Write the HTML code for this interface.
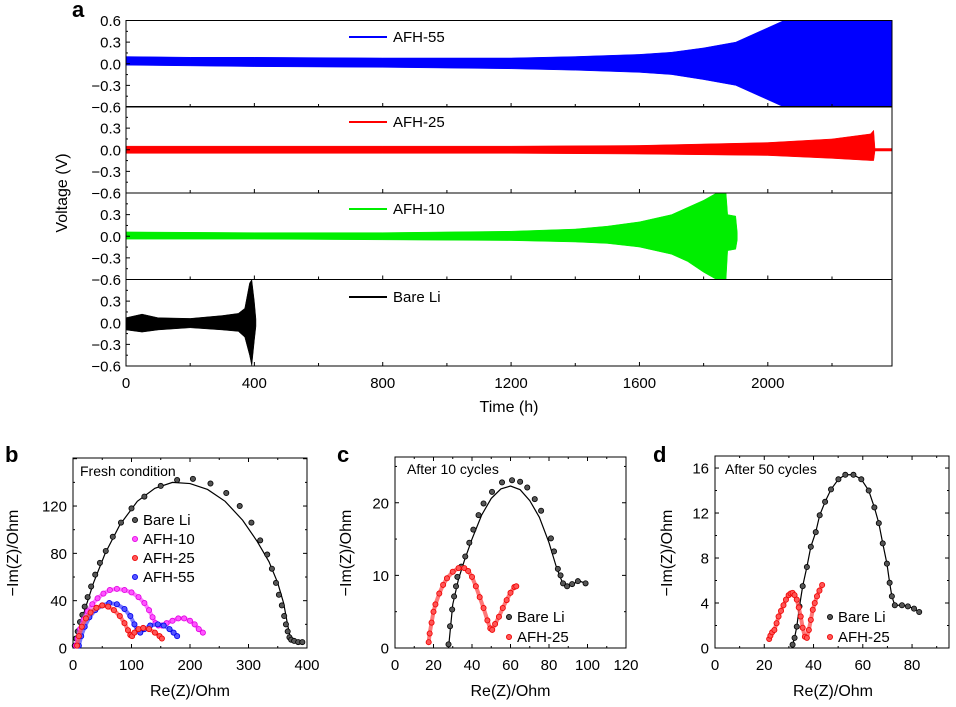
<!DOCTYPE html>
<html><head><meta charset="utf-8">
<style>
html,body{margin:0;padding:0;background:#fff;}
svg{display:block;font-family:"Liberation Sans",Arial,sans-serif;}
text{font-size:15px;fill:#000;}
.lab{font-size:16px;}
.pl{font-size:22px;font-weight:bold;}
</style></head>
<body>
<svg id="fig" width="956" height="707" viewBox="0 0 956 707"></svg>
<script>
// ===== Panel a data (voltage envelopes) =====
const aTicks = [0, 400, 800, 1200, 1600, 2000];
const vTicks = [0.6, 0.3, 0.0, -0.3, -0.6];
const vTickLabels = ["0.6", "0.3", "0.0", "\u22120.3", "\u22120.6"];
const seriesNames = ["AFH-55", "AFH-25", "AFH-10", "Bare Li"];
const seriesColors = ["#0000ff", "#ff0000", "#00ee00", "#000000"];
const t55 = [0, 200, 400, 800, 1200, 1400, 1600, 1700, 1800, 1900, 1950, 2000, 2050, 2100, 2387];
const up55 = [0.1, 0.09, 0.09, 0.08, 0.08, 0.1, 0.13, 0.16, 0.22, 0.3, 0.4, 0.5, 0.6, 0.6, 0.6];
const lo55 = [-0.02, -0.03, -0.04, -0.05, -0.07, -0.09, -0.12, -0.15, -0.22, -0.3, -0.4, -0.5, -0.6, -0.6, -0.6];
const t25 = [0, 400, 800, 1200, 1600, 2000, 2200, 2320, 2330, 2334];
const up25 = [0.05, 0.05, 0.05, 0.05, 0.06, 0.1, 0.15, 0.22, 0.27, 0.02];
const lo25 = [-0.05, -0.05, -0.05, -0.05, -0.06, -0.08, -0.12, -0.15, -0.15, -0.02];
const t25tail = [2334, 2387];
const t10 = [0, 400, 800, 1200, 1400, 1500, 1600, 1700, 1750, 1800, 1840, 1870, 1875, 1900, 1905];
const up10 = [0.06, 0.05, 0.05, 0.07, 0.1, 0.14, 0.2, 0.3, 0.4, 0.5, 0.6, 0.6, 0.3, 0.28, 0.05];
const lo10 = [-0.04, -0.04, -0.05, -0.06, -0.08, -0.1, -0.15, -0.25, -0.35, -0.5, -0.6, -0.6, -0.2, -0.18, -0.05];
const tLi = [0, 50, 100, 200, 300, 350, 370, 385, 392, 400, 405];
const upLi = [0.07, 0.12, 0.07, 0.06, 0.1, 0.13, 0.2, 0.55, 0.6, 0.3, 0.05];
const loLi = [-0.1, -0.13, -0.1, -0.07, -0.1, -0.12, -0.2, -0.45, -0.6, -0.25, -0.05];

// ===== Panel b data =====
const bLiX = [3,5,8,12,16,20,25,31,38,46,56,68,82,100,122,150,178,205,235,262,285,305,320,332,340,347,352,357,361,364,367,370,373,378,385,392];
const bLiY = [2,8,14,22,28,35,43,52,62,72,82,94,106,118,128,137,142,143,139,131,120,106,91,79,67,55,45,36,27,20,14,9,7,6,5,5];
const bFitX = [3,10,20,35,55,80,110,140,170,200,230,260,290,315,335,350,360,366,370,375,385];
const bFitY = [0,15,32,55,80,104,124,135,140,139,134,124,108,90,73,55,38,22,12,7,5];
const b10X = [5,8,12,18,25,33,42,52,63,75,88,100,112,122,130,136,141,146,152,160,170,180,190,200,208,215,222];
const b10Y = [2,8,16,24,31,37,42,46,49,50,49,47,43,38,32,26,21,19,19,21,23,25,25,23,20,16,13];
const b25X = [7,10,15,22,30,40,50,60,70,80,88,94,98,101,105,112,120,130,140,148,152];
const b25Y = [2,10,18,25,30,34,36,35,32,27,21,15,11,10,13,16,17,16,13,10,8];
const b55X = [10,14,20,28,38,50,62,75,88,98,105,110,115,122,132,145,155,165,172,178];
const b55Y = [2,10,18,26,32,36,38,37,33,27,20,15,13,16,19,20,19,16,13,10];

// ===== Panel c data =====
const cLiX = [27.8,28.6,29.7,30.7,31.7,32.4,34.4,36.5,38.6,40.7,43.4,46,50.4,55.6,60.8,65,68.7,72.6,75.9,81,82.6,84.6,86,87.3,89.4,92,95,99];
const cLiY = [0.5,3,5.3,7.1,8.5,9.8,11.2,12.6,14.5,16.3,18.3,19.9,21.5,22.8,23.1,22.9,22.1,20.5,18.9,15.1,13.3,10.9,10,8.9,8.5,8.8,9.2,8.9];
const cFitX = [27.8,30,33,36,40,45,50,55,60,65,70,75,80,84,87,89,92,96,99];
const cFitY = [0,6,9.5,12,15,18.3,20.6,21.9,22.3,21.8,20.3,18,14.5,11,9,8.4,8.8,9.2,8.9];
const c25X = [17.5,18,19,20,21,23,25,27,30,33,36,38,40,42,44,46,48,49.5,50.5,52,54,56,58,60,62,63];
const c25Y = [0.8,2,3.5,5,6,7.5,8.7,9.6,10.5,11,11,10.6,9.8,8.5,7,5.5,3.8,2.7,2.5,3.3,4.3,5.5,6.6,7.6,8.4,8.5];

// ===== Panel d data =====
const dLiX = [31.5,32.3,33.2,34.3,35.6,37.3,38.9,40.9,42.5,44.7,47.1,50.1,52.9,56.2,59.4,62.4,64.7,66.5,68.1,69.8,70.9,71.8,73,75.9,78.3,80.8,82.9];
const dLiY = [0.3,0.9,1.9,3.7,5.5,7.2,9,10.3,11.8,13,14.1,15,15.4,15.4,15,14,12.5,11.1,9.3,7.5,5.8,4.6,3.8,3.8,3.7,3.5,3.2];
const d25X = [22,22.5,23.2,24.1,25,25.8,26.8,27.8,28.8,29.9,30.7,31.5,32.3,33.2,34,34.8,35.6,36.5,37.3,38.1,38.9,39.7,40.5,41.4,42.4,43.5];
const d25Y = [0.8,1.1,1.4,1.6,2.2,2.8,3.3,3.8,4.3,4.7,4.85,4.9,4.7,4.3,3.6,2.8,1.8,1.0,0.9,1.6,2.5,3.4,4.0,4.6,5.1,5.6];

const NS = "http://www.w3.org/2000/svg";
const svg = document.getElementById("fig");
function el(tag, attrs, parent) {
  const e = document.createElementNS(NS, tag);
  for (const k in attrs) e.setAttribute(k, attrs[k]);
  (parent || svg).appendChild(e);
  return e;
}
function txt(x, y, s, anchor, parent, cls) {
  const t = el("text", {x: x, y: y, "text-anchor": anchor || "start"}, parent);
  if (cls) t.setAttribute("class", cls);
  t.textContent = s;
  return t;
}

// ===== Panel a =====
const aL = 126, aR = 892, aTmax = 2387;
const subTops = [20.5, 106.5, 193, 279.5];
const subH = 86.5;
const ax = t => aL + t / aTmax * (aR - aL);
function vy(i, v) { return subTops[i] + (0.6 - v) / 1.2 * subH; }
const gA = el("g", {});


const letterA = txt(72, 17, "a", "start", gA, "pl");


const envT = [t55, t25, t10, tLi], envU = [up55, up25, up10, upLi], envL = [lo55, lo25, lo10, loLi];
for (let i = 0; i < 4; i++) {
  const g = el("g", {}, gA);
  
  
  const T = envT[i], U = envU[i], L = envL[i];
  let pts = [];
  for (let k = 0; k < T.length; k++) pts.push(ax(T[k]) + "," + vy(i, U[k]));
  for (let k = T.length - 1; k >= 0; k--) pts.push(ax(T[k]) + "," + vy(i, L[k]));
  const p = el("polygon", {points: pts.join(" "), fill: seriesColors[i], stroke: seriesColors[i], "stroke-width": 0.5}, g);
  
  
  if (i === 1) {
    const tl = el("line", {x1: ax(t25tail[0]), x2: ax(t25tail[1]), y1: vy(1, 0), y2: vy(1, 0), stroke: seriesColors[1], "stroke-width": 3}, g);
    
    
  }
  el("rect", {x: aL, y: subTops[i], width: aR - aL, height: subH, fill: "none", stroke: "#000", "stroke-width": 1}, g);
  for (let k = 0; k < vTicks.length; k++) {
    const y = vy(i, vTicks[k]);
    el("line", {x1: aL, x2: aL + 4, y1: y, y2: y, stroke: "#000"}, g);
    if (k < vTicks.length - 1) { const y2 = vy(i, vTicks[k] - 0.15); el("line", {x1: aL, x2: aL + 2, y1: y2, y2: y2, stroke: "#000"}, g); }
    if (i === 0 || k > 0) {
      const tk = txt(aL - 5, y + 5.5, vTickLabels[k], "end", g);
      
      
    }
  }
  for (let t = 0; t <= 2200; t += 200) {
    el("line", {x1: ax(t), x2: ax(t), y1: subTops[i] + subH, y2: subTops[i] + subH - (t % 400 === 0 ? 4 : 3), stroke: "#000"}, g);
  }
  const ly = [37, 122, 209, 297][i];
  const ll = el("line", {x1: 349, x2: 387, y1: ly, y2: ly, stroke: seriesColors[i], "stroke-width": 2}, g);
  
  
  const lt = txt(393, ly + 5, seriesNames[i], "start", g);
  
  
}
for (const t of aTicks) {
  const tk = txt(ax(t), 388, String(t), "middle", gA);
  
  
}
const xtA = txt(509, 412, "Time (h)", "middle", gA, "lab");


const ytA = txt(0, 0, "Voltage (V)", "middle", gA, "lab");
ytA.setAttribute("transform", "translate(67,193) rotate(-90)");



// ===== EIS panels =====
function panel(cfg) {
  const g = el("g", {});
  
  
  const X = v => cfg.L + (v - cfg.xmin) / (cfg.xmax - cfg.xmin) * (cfg.R - cfg.L);
  const Y = v => cfg.B - (v - cfg.ymin) / (cfg.ymax - cfg.ymin) * (cfg.B - cfg.T);
  const pl = txt(cfg.letterX, 462, cfg.letter, "start", g, "pl");
  
  
  el("rect", {x: cfg.L, y: cfg.T, width: cfg.R - cfg.L, height: cfg.B - cfg.T, fill: "none", stroke: "#000"}, g);
  for (let v = cfg.xmin; v <= cfg.xmax + 1e-9; v += cfg.xminor) {
    const major = Math.abs(v / cfg.xmajor - Math.round(v / cfg.xmajor)) < 1e-6;
    const len = major ? 4 : 2;
    el("line", {x1: X(v), x2: X(v), y1: cfg.B, y2: cfg.B - len, stroke: "#000"}, g);
    el("line", {x1: X(v), x2: X(v), y1: cfg.T, y2: cfg.T + len, stroke: "#000"}, g);
    if (major && v <= cfg.xlabMax) {
      const tk = txt(X(v), 670, String(Math.round(v)), "middle", g);
      
      
    }
  }
  for (let v = cfg.ymin; v <= cfg.ymax + 1e-9; v += cfg.yminor) {
    const major = Math.abs(v / cfg.ymajor - Math.round(v / cfg.ymajor)) < 1e-6;
    const len = major ? 4 : 2;
    el("line", {x1: cfg.L, x2: cfg.L + len, y1: Y(v), y2: Y(v), stroke: "#000"}, g);
    el("line", {x1: cfg.R, x2: cfg.R - len, y1: Y(v), y2: Y(v), stroke: "#000"}, g);
    if (major && v <= cfg.ylabMax) {
      const tk = txt(cfg.L - 6, Y(v) + 5.5, String(Math.round(v)), "end", g);
      
      
    }
  }
  const xt = txt((cfg.L + cfg.R) / 2 + cfg.xtOff, 696, "Re(Z)/Ohm", "middle", g, "lab");
  
  
  const yt = txt(0, 0, "\u2212Im(Z)/Ohm", "middle", g, "lab");
  yt.setAttribute("transform", "translate(" + cfg.ytX + ",553) rotate(-90)");
  
  
  const cond = txt(cfg.condX, cfg.condY, cfg.cond, "start", g);
  cond.style.fontSize = "14px";
  
  
  for (const s of cfg.series) {
    const sg = el("g", {}, g);
    
    
    if (s.fx) {
      const fit = el("polyline", {points: s.fx.map((v, k) => X(v) + "," + Y(s.fy[k])).join(" "), fill: "none", stroke: "#000", "stroke-width": 1.2}, sg);
      
      
    }
    if (s.band) {
      const band = el("polyline", {points: s.x.map((v, k) => X(v) + "," + Y(s.y[k])).join(" "), fill: "none", stroke: s.color, "stroke-width": 4, "stroke-opacity": 0.8}, sg);
      
      
    }
    for (let k = 0; k < s.x.length; k++) {
      const c = el("circle", {cx: X(s.x[k]), cy: Y(s.y[k]), r: 2.6, fill: s.color, stroke: s.dark, "stroke-width": 0.8}, sg);
      
      
    }
  }
  cfg.legend.forEach((e, k) => {
    const yy = cfg.legY + k * cfg.legDy;
    const c = el("circle", {cx: cfg.legX, cy: yy, r: 2.6, fill: e.color, stroke: e.dark, "stroke-width": 0.8}, g);
    
    
    const t = txt(cfg.legX + 8, yy + 5, e.label, "start", g);
    
    
  });
}
panel({name: "panel-b", letter: "b", letterX: 5, L: 73, R: 307, T: 458, B: 648, xmin: 0, xmax: 400, ymin: 0, ymax: 160.6,
  xmajor: 100, xminor: 50, ymajor: 40, yminor: 20, xlabMax: 400, ylabMax: 120, xtOff: 0, ytX: 18, cond: "Fresh condition", condX: 80, condY: 476,
  series: [
    {label: "Bare Li", x: bLiX, y: bLiY, fx: bFitX, fy: bFitY, color: "#555", dark: "#000"},
    {label: "AFH-10", x: b10X, y: b10Y, color: "#ff55ff", dark: "#e000e0", band: true},
    {label: "AFH-55", x: b55X, y: b55Y, color: "#5555ff", dark: "#0000ee", band: true},
    {label: "AFH-25", x: b25X, y: b25Y, color: "#ff5555", dark: "#ee0000", band: true}],
  legX: 135, legY: 520, legDy: 19,
  legend: [{label: "Bare Li", color: "#555", dark: "#000"}, {label: "AFH-10", color: "#ff55ff", dark: "#e000e0"},
    {label: "AFH-25", color: "#ff5555", dark: "#ee0000"}, {label: "AFH-55", color: "#5555ff", dark: "#0000ee"}]});
panel({name: "panel-c", letter: "c", letterX: 337, L: 395, R: 626, T: 457, B: 648, xmin: 0, xmax: 120, ymin: 0, ymax: 26.3,
  xmajor: 20, xminor: 10, ymajor: 10, yminor: 5, xlabMax: 120, ylabMax: 20, xtOff: 0, ytX: 351, cond: "After 10 cycles", condX: 407, condY: 474,
  series: [
    {label: "Bare Li", x: cLiX, y: cLiY, fx: cFitX, fy: cFitY, color: "#555", dark: "#000"},
    {label: "AFH-25", x: c25X, y: c25Y, color: "#ff5555", dark: "#ee0000", band: true}],
  legX: 509, legY: 617, legDy: 20,
  legend: [{label: "Bare Li", color: "#555", dark: "#000"}, {label: "AFH-25", color: "#ff5555", dark: "#ee0000"}]});
panel({name: "panel-d", letter: "d", letterX: 653, L: 715, R: 949, T: 456, B: 648, xmin: 0, xmax: 95, ymin: 0, ymax: 17.07,
  xmajor: 20, xminor: 10, ymajor: 4, yminor: 2, xlabMax: 80, ylabMax: 16, xtOff: 1, ytX: 672, cond: "After 50 cycles", condX: 725, condY: 474,
  series: [
    {label: "Bare Li", x: dLiX, y: dLiY, fx: dLiX, fy: dLiY, color: "#555", dark: "#000"},
    {label: "AFH-25", x: d25X, y: d25Y, color: "#ff5555", dark: "#ee0000", band: true}],
  legX: 830, legY: 617, legDy: 20,
  legend: [{label: "Bare Li", color: "#555", dark: "#000"}, {label: "AFH-25", color: "#ff5555", dark: "#ee0000"}]});
</script>
</body></html>
